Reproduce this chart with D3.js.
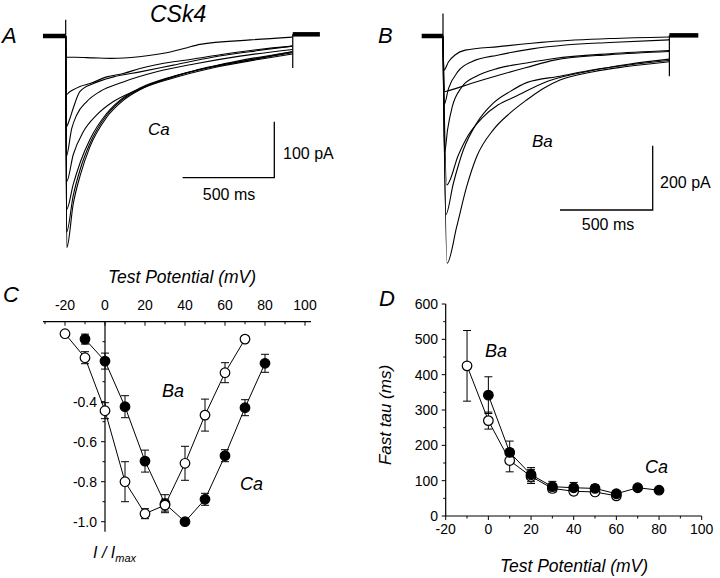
<!DOCTYPE html>
<html><head><meta charset="utf-8">
<script src="https://cdn.jsdelivr.net/npm/d3@7"></script>
<style>
body{margin:0;background:#fff}
text{font-family:"Liberation Sans",Arial,Helvetica,sans-serif;fill:#000}
</style>
</head><body>
<svg id="fig" width="720" height="578"></svg>
<script>
// ---------------- DATA ----------------
// Panel A: Ca currents, [time ms, current pA]
const caTraces = [
  [[3,-38],[50,-38],[150,-39],[250,-40],[400,-37],[550,-30],[650,-22],[733,-15],[1006,-7],[1236,-2]],
  [[3,-105],[20,-100],[41,-96],[78,-90],[132,-85],[224,-73],[314,-67],[405,-58],[587,-46],[678,-42],[850,-33],[1050,-24],[1236,-18]],
  [[3,-162],[20,-150],[41,-129],[78,-99],[151,-85],[260,-73],[405,-64],[587,-52],[800,-38],[1050,-26],[1236,-18]],
  [[3,-215],[33,-165],[60,-141],[115,-117],[187,-99],[314,-82],[496,-64],[700,-50],[950,-36],[1236,-24]],
  [[5,-260],[41,-212],[96,-171],[169,-141],[260,-117],[369,-99],[500,-82],[700,-62],[950,-44],[1236,-28]],
  [[5,-310],[41,-265],[80,-225],[132,-185],[224,-138],[314,-110],[405,-93],[587,-72],[800,-55],[1050,-40],[1236,-28]],
  [[5,-350],[41,-285],[80,-237],[132,-192],[224,-141],[314,-112],[405,-95],[587,-73],[800,-55],[1050,-40],[1236,-30]],
  [[6,-378],[41,-300],[80,-248],[132,-198],[224,-145],[314,-115],[405,-96],[587,-75],[800,-57],[1050,-42],[1236,-32]]
];
const caHoldPre = [[-124,0],[0,0]];
const caHoldPost = [[1238,3],[1386,3]];
const caOnsetSpike = [29,0];
const caOffsetSpike = [1238,-57,3];

// Panel B: Ba currents, [time ms, current pA]
const baTraces = [
  [[5,-106],[30,-80],[65,-59],[120,-44],[300,-33],[570,-18],[900,-8],[1220,-3]],
  [[5,-215],[30,-163],[80,-111],[155,-80],[300,-59],[480,-40],[660,-28],[900,-20],[1220,-12]],
  [[8,-173],[30,-170],[155,-147],[300,-122],[450,-98],[600,-75],[900,-58],[1220,-48]],
  [[8,-364],[25,-290],[50,-220],[100,-160],[180,-125],[300,-100],[450,-84],[600,-70],[900,-55],[1220,-45]],
  [[20,-463],[83,-370],[137,-308],[209,-256],[298,-214],[388,-189],[568,-140],[800,-108],[1000,-88],[1220,-72]],
  [[15,-556],[56,-458],[110,-354],[182,-271],[271,-209],[361,-173],[451,-145],[631,-125],[811,-105],[1000,-90],[1220,-76]],
  [[22,-707],[74,-593],[128,-468],[182,-375],[271,-292],[361,-240],[451,-199],[541,-163],[631,-137],[811,-111],[991,-95],[1220,-80]]
];
const baHoldPre = [[-115,0],[0,0]];
const baHoldPost = [[1221,2],[1377,2]];
const baOnsetSpike = [70,0];
const baOffsetSpike = [1221,-125,2];

// Panel C: normalized I-V
const ivBaV = [-20,-10,0,10,20,30,40,50,60,70];
const ivBa = [-0.06,-0.18,-0.445,-0.80,-0.96,-0.917,-0.708,-0.467,-0.255,-0.087];
const ivBaErr = [0.005,0.03,0.04,0.10,0.025,0.03,0.085,0.08,0.05,0.015];
const ivCaV = [-10,0,10,20,30,40,50,60,70,80];
const ivCa = [-0.087,-0.197,-0.425,-0.697,-0.91,-1.0,-0.888,-0.67,-0.43,-0.208];
const ivCaErr = [0.025,0.04,0.055,0.055,0.045,0.0,0.03,0.03,0.04,0.045];
const ivXTicks = [-20,0,20,40,60,80,100];
const ivYTicks = [-0.4,-0.6,-0.8,-1.0];

// Panel D: fast inactivation tau
const tauBaV = [-10,0,10,20,30,40,50,60];
const tauBa = [425,270,157,112,78,70,68,57];
const tauBaErr = [100,24,32,20,10,10,10,8];
const tauCaV = [0,10,20,30,40,50,60,70,80];
const tauCa = [342,180,117,83,80,78,63,80,73];
const tauCaErr = [52,32,20,15,15,10,8,0,0];
const tauXTicks = [-20,0,20,40,60,80,100];
const tauYTicks = [0,100,200,300,400,500,600];

// ---------------- DRAW ----------------
const svg = d3.select("#fig");
svg.append("rect").attr("width",720).attr("height",578).attr("fill","#fff");

function txt(x,y,s,size,opts={}) {
  const t = svg.append("text").attr("x",x).attr("y",y).attr("font-size",size)
    .attr("font-style",opts.italic?"italic":"normal")
    .attr("text-anchor",opts.anchor||"start");
  if (opts.transform) t.attr("transform",opts.transform);
  t.text(s);
  return t;
}

function drawTracePanel(traces, pre, post, onset, offset, x, y) {
  const g = svg.append("g").attr("fill","none").attr("stroke","#000");
  const hold = d3.line().x(d=>x(d[0])).y(d=>y(d[1]));
  g.append("path").attr("d",hold(pre)).attr("stroke-width",4.5);
  g.append("path").attr("d",hold(post)).attr("stroke-width",4.5);
  const line = d3.line().x(d=>x(d[0])).y(d=>y(d[1])).curve(d3.curveMonotoneX);
  traces.forEach(tr => {
    g.append("path").attr("d",line([[0,0]].concat(tr))).attr("stroke-width",1.1);
  });
  g.append("line").attr("x1",x(0)).attr("x2",x(0)).attr("y1",y(onset[0])).attr("y2",y(onset[1])).attr("stroke-width",1.2);
  g.append("line").attr("x1",x(offset[0])).attr("x2",x(offset[0])).attr("y1",y(offset[1])).attr("y2",y(offset[2])).attr("stroke-width",1.2);
}

function scaleBar(cx, cy, x, y, ms, pA) {
  const w = x(ms)-x(0), h = y(-pA)-y(0);
  svg.append("path").attr("d",`M${cx-w},${cy}H${cx}V${cy-h}`)
    .attr("fill","none").attr("stroke","#000").attr("stroke-width",1.3);
}

// Panel A
const xA = d3.scaleLinear().domain([0,500]).range([65.7,157.4]);
const yA = d3.scaleLinear().domain([0,-100]).range([36,92]);
drawTracePanel(caTraces, caHoldPre, caHoldPost, caOnsetSpike, caOffsetSpike, xA, yA);
scaleBar(274.3,177.7,xA,yA,500,100);
txt(2,43,"A",22,{italic:true});
txt(150,22,"CSk4",23,{italic:true});
txt(148,135,"Ca",17,{italic:true});
txt(283,159,"100 pA",16);
txt(229,200,"500 ms",16,{anchor:"middle"});

// Panel B
const xB = d3.scaleLinear().domain([0,500]).range([443,535.7]);
const yB = d3.scaleLinear().domain([0,-200]).range([36,100.3]);
drawTracePanel(baTraces, baHoldPre, baHoldPost, baOnsetSpike, baOffsetSpike, xB, yB);
scaleBar(652.7,210,xB,yB,500,200);
txt(378,43,"B",22,{italic:true});
txt(532,147,"Ba",17,{italic:true});
txt(660,188,"200 pA",16);
txt(608,230,"500 ms",16,{anchor:"middle"});

// generic marker series
function series(g, vs, ys, es, x, y, filled) {
  const line = d3.line().x((d,i)=>x(vs[i])).y(d=>y(d));
  g.append("path").attr("d",line(ys)).attr("fill","none").attr("stroke","#000").attr("stroke-width",1);
  ys.forEach((v,i)=>{
    if (es[i] > 0) {
      const cx = x(vs[i]), y1 = y(v+es[i]), y2 = y(v-es[i]);
      g.append("path").attr("d",`M${cx},${y1}V${y2}M${cx-4},${y1}H${cx+4}M${cx-4},${y2}H${cx+4}`)
        .attr("fill","none").attr("stroke","#000").attr("stroke-width",1);
    }
  });
}
function markers(g, vs, ys, x, y, filled) {
  ys.forEach((v,i)=>{
    g.append("circle").attr("cx",x(vs[i])).attr("cy",y(v)).attr("r",4.8)
      .attr("fill",filled?"#000":"#fff").attr("stroke","#000").attr("stroke-width",1.2);
  });
}

// Panel C
const xC = d3.scaleLinear().domain([-20,100]).range([65,305]);
const yC = d3.scaleLinear().domain([0,-1]).range([321.7,521.7]);
const gC = svg.append("g");
gC.append("line").attr("x1",xC(-31)).attr("x2",xC(103)).attr("y1",yC(0)).attr("y2",yC(0)).attr("stroke","#000").attr("stroke-width",1.2);
gC.append("line").attr("x1",xC(0)).attr("x2",xC(0)).attr("y1",yC(0)).attr("y2",yC(-1.05)).attr("stroke","#000").attr("stroke-width",1.2);
d3.range(-30,101,10).forEach(v=>{
  const major = ivXTicks.includes(v);
  gC.append("line").attr("x1",xC(v)).attr("x2",xC(v)).attr("y1",yC(0)).attr("y2",yC(0)+(major?4:2.5)).attr("stroke","#000");
});
ivXTicks.forEach(v=>{ txt(xC(v),310,String(v),14,{anchor:"middle"}); });
d3.range(1,11).forEach(k=>{
  const v = -k/10;
  const major = k%2===0;
  gC.append("line").attr("x1",xC(0)-(major?4:2.5)).attr("x2",xC(0)).attr("y1",yC(v)).attr("y2",yC(v)).attr("stroke","#000");
});
ivYTicks.forEach(v=>{ txt(97,yC(v)+5,v.toFixed(1),14,{anchor:"end"}); });
series(gC, ivCaV, ivCa, ivCaErr, xC, yC, true);
series(gC, ivBaV, ivBa, ivBaErr, xC, yC, false);
markers(gC, ivCaV, ivCa, xC, yC, true);
markers(gC, ivBaV, ivBa, xC, yC, false);
txt(3,302,"C",22,{italic:true});
txt(182,283,"Test Potential (mV)",17.5,{italic:true,anchor:"middle"});
txt(162,397,"Ba",18,{italic:true});
txt(240,490,"Ca",18,{italic:true});
const imx = txt(93,558,"I / I",16,{italic:true});
imx.append("tspan").attr("font-size",11).attr("dy",4).text("max");

// Panel D
const xD = d3.scaleLinear().domain([-20,100]).range([445.7,701.7]);
const yD = d3.scaleLinear().domain([0,600]).range([516,304]);
const gD = svg.append("g");
gD.append("path").attr("d",`M${xD(-20)},${yD(600)}V${yD(0)}H${xD(100)}`).attr("fill","none").attr("stroke","#000").attr("stroke-width",1.2);
d3.range(-20,101,10).forEach(v=>{
  const major = tauXTicks.includes(v);
  gD.append("line").attr("x1",xD(v)).attr("x2",xD(v)).attr("y1",yD(0)).attr("y2",yD(0)+(major?4:2.5)).attr("stroke","#000");
});
d3.range(0,601,50).forEach(v=>{
  const major = tauYTicks.includes(v);
  gD.append("line").attr("x1",xD(-20)-(major?4:2.5)).attr("x2",xD(-20)).attr("y1",yD(v)).attr("y2",yD(v)).attr("stroke","#000");
});
tauXTicks.forEach(v=>{ txt(xD(v),534,String(v),14,{anchor:"middle"}); });
tauYTicks.forEach(v=>{ txt(438,yD(v)+5,String(v),14,{anchor:"end"}); });
series(gD, tauBaV, tauBa, tauBaErr, xD, yD, false);
series(gD, tauCaV, tauCa, tauCaErr, xD, yD, true);
markers(gD, tauBaV, tauBa, xD, yD, false);
markers(gD, tauCaV, tauCa, xD, yD, true);
txt(379,306,"D",22,{italic:true});
txt(574,572,"Test Potential (mV)",17.5,{italic:true,anchor:"middle"});
txt(391,415,"Fast tau (ms)",17,{italic:true,anchor:"middle",transform:"rotate(-90,391,415)"});
txt(485,357,"Ba",18,{italic:true});
txt(645,473,"Ca",18,{italic:true});
</script>
</body></html>
